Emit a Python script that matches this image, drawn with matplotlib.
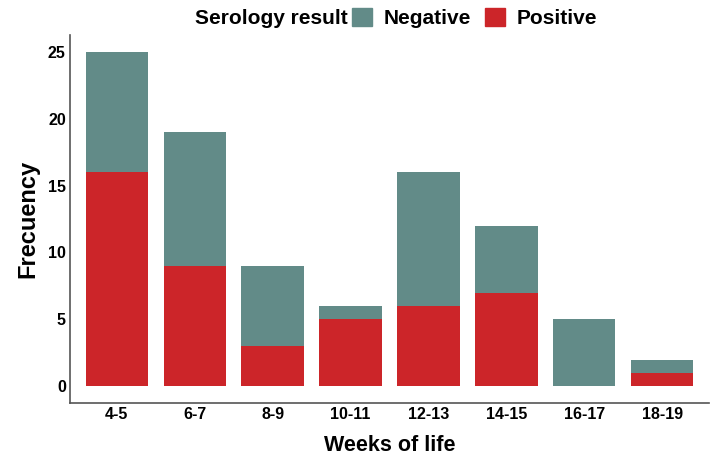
import numpy as np
import matplotlib
matplotlib.use("Agg")
import matplotlib.pyplot as plt
from matplotlib.patches import Patch

plt.rcParams['font.family'] = ['Liberation Sans', 'DejaVu Sans']
plt.rcParams['font.weight'] = 'bold'

# data
weeks = ["4-5", "6-7", "8-9", "10-11", "12-13", "14-15", "16-17", "18-19"]
positive = [16, 9, 3, 5, 6, 7, 0, 1]
negative = [9, 10, 6, 1, 10, 5, 5, 1]

col_neg = "#628B88"
col_pos = "#CC2529"

fig = plt.figure(figsize=(7.12, 4.59), dpi=100)
ax = fig.add_axes([70 / 712, 1 - 403 / 459, 639 / 712, 368 / 459])

x = np.arange(len(weeks))
ax.bar(x, positive, width=0.8, color=col_pos)
ax.bar(x, negative, width=0.8, bottom=positive, color=col_neg)

ax.set_xlim(-0.6, len(weeks) - 0.4)
ax.set_ylim(-1.25, 26.25)
ax.set_xticks(x)
ax.set_xticklabels(weeks)
ax.set_yticks([0, 5, 10, 15, 20, 25])
ax.tick_params(length=0, labelsize=11.5, labelcolor="black", pad=3)
for lab in ax.get_xticklabels() + ax.get_yticklabels():
    lab.set_fontweight('bold')

for s in ["top", "right"]:
    ax.spines[s].set_visible(False)
for s in ["left", "bottom"]:
    ax.spines[s].set_color("#555555")
    ax.spines[s].set_linewidth(1.2)

ax.set_xlabel("Weeks of life", fontsize=15.5, fontweight='bold', labelpad=9)
ax.set_ylabel("Frecuency", fontsize=17, fontweight='bold', labelpad=6)

# legend on top, title inline
fig.text(348 / 712, 1 - 18 / 459, "Serology result", fontsize=15, fontweight='bold',
         ha='right', va='center')
handles = [Patch(color=col_neg), Patch(color=col_pos)]
fig.legend(handles, ["Negative", "Positive"], loc='center left',
           bbox_to_anchor=(352 / 712, 1 - 18 / 459), ncol=2, frameon=False,
           fontsize=15, handlelength=0.95, handleheight=0.95, handletextpad=0.55,
           columnspacing=0.7, borderpad=0, borderaxespad=0)

fig.savefig("out.png", dpi=100)
